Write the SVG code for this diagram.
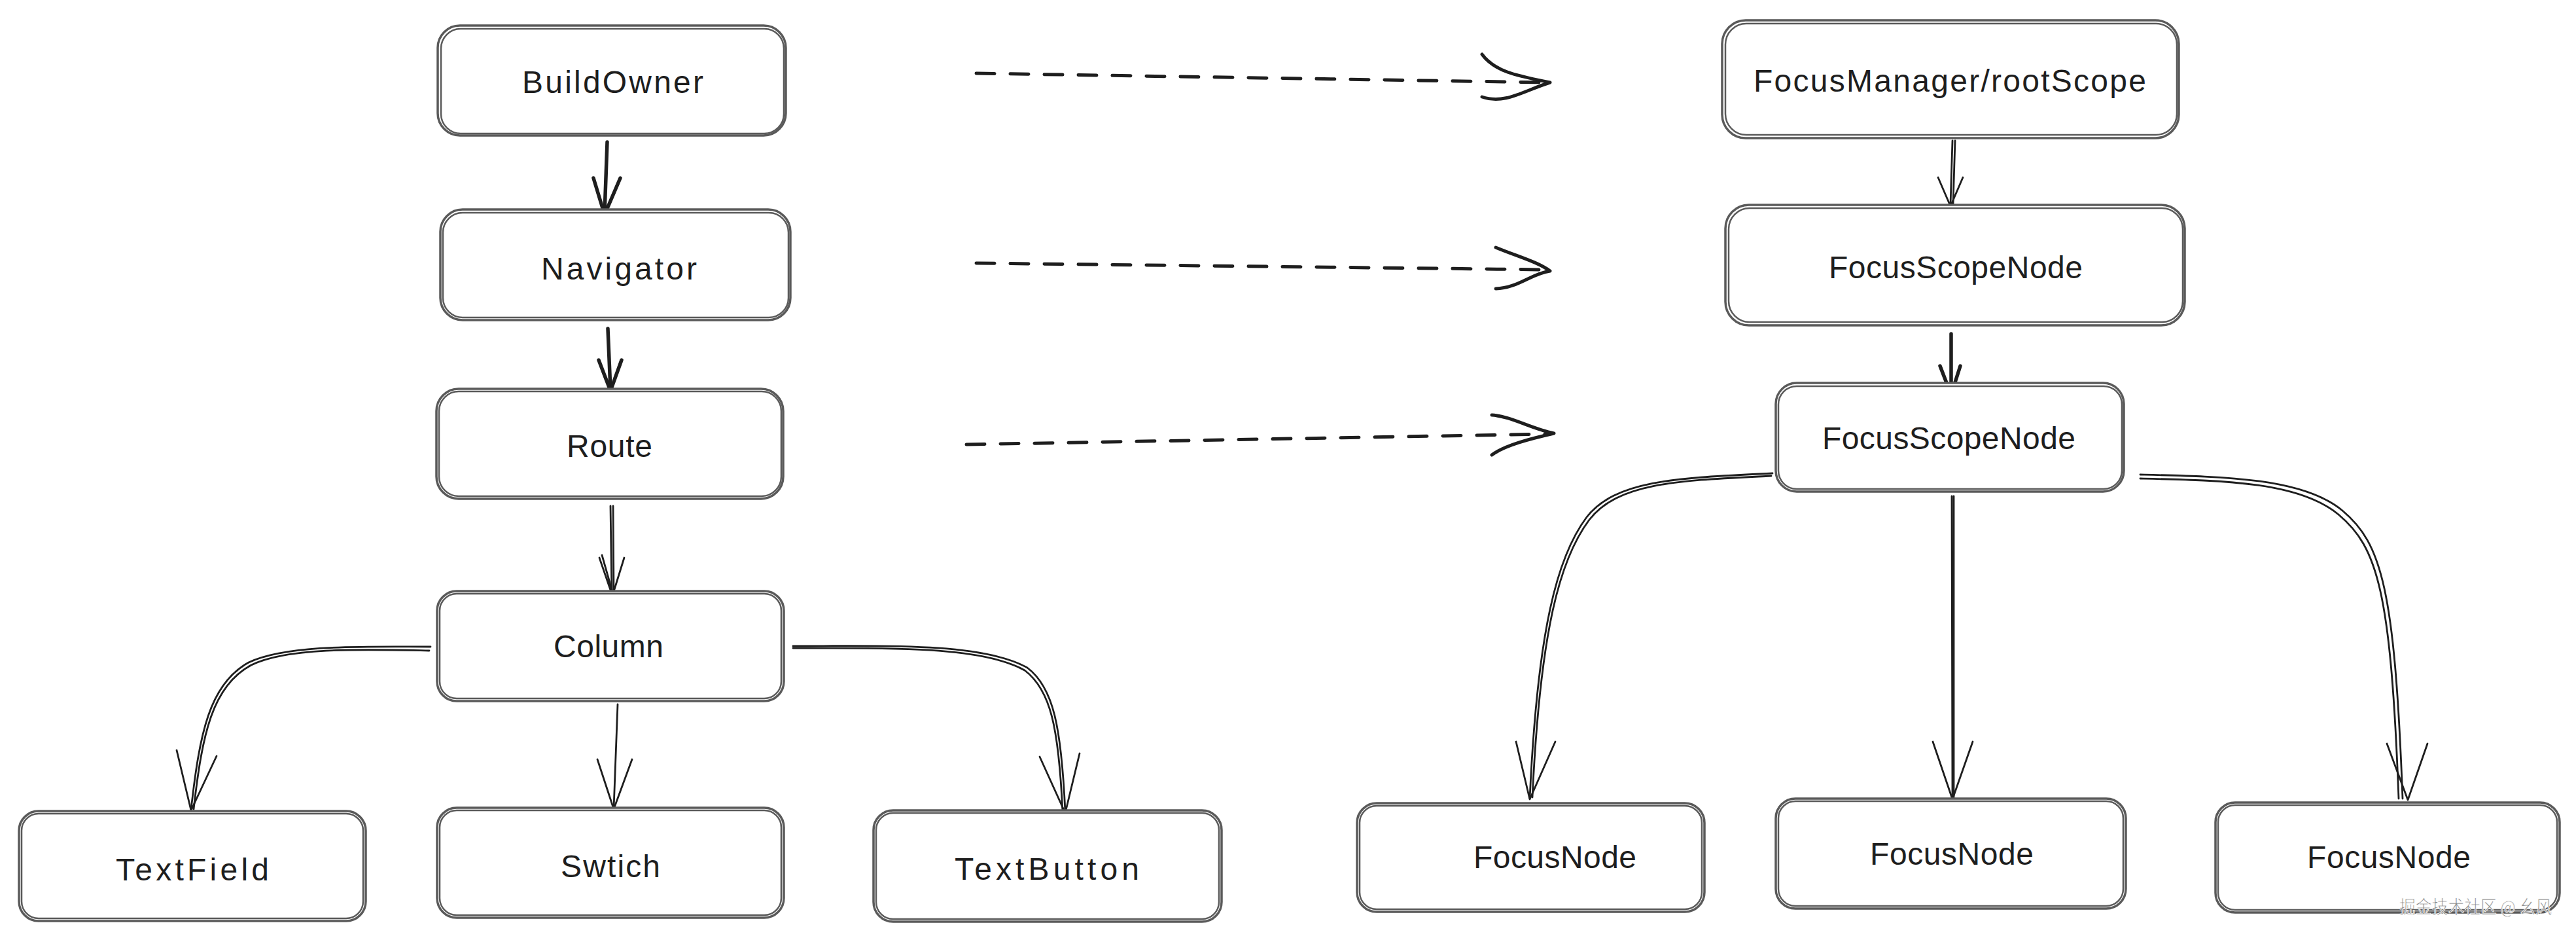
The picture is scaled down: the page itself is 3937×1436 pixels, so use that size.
<svg xmlns="http://www.w3.org/2000/svg" width="3937" height="1436" viewBox="0 0 3937 1436">
<style>
.box{fill:#fff;stroke:#5a5a5a;stroke-width:3.5}
.box2{fill:none;stroke:#5a5a5a;stroke-width:2.5}
.lbl{font-family:"Liberation Sans",Arial,sans-serif;font-size:48px;fill:#1e1e1e}
.thick{fill:none;stroke:#1e1e1e;stroke-width:5.5;stroke-linecap:round;stroke-linejoin:round}
.thin{fill:none;stroke:#1e1e1e;stroke-width:2.8;stroke-linecap:round;stroke-linejoin:round}
.dash{fill:none;stroke:#1e1e1e;stroke-width:5;stroke-dasharray:28 24;stroke-linecap:round}
.head{fill:none;stroke:#1e1e1e;stroke-width:5;stroke-linecap:round;stroke-linejoin:round}
.wm{font-family:"Noto Sans CJK SC","Liberation Sans",sans-serif;font-size:28px;fill:#8a8a8a;stroke:#fff;stroke-width:0.8}
</style>
<rect width="3937" height="1436" fill="#fff"/>
<g id="connectors">
  <!-- BuildOwner -> Navigator -->
  <path class="thick" d="M928,217 L924,326"/>
  <path class="thick" d="M907,272 L924,328 L948,272"/>
  <!-- Navigator -> Route -->
  <path class="thick" d="M929,502 L933,595"/>
  <path class="thick" d="M915,550 L933,597 L950,550"/>
  <!-- Route -> Column -->
  <path class="thin" d="M933,773 L935,908 M937,773 L938,906"/>
  <path class="thin" d="M916,852 L936,910 L954,852 M920,848 L937,908"/>
  <!-- Column -> TextField -->
  <path class="thin" d="M658,988 C560,988 440,984 380,1012 C320,1045 305,1120 292,1237"/>
  <path class="thin" d="M656,994 C560,992 440,988 384,1016 C324,1048 309,1122 296,1236"/>
  <path class="thin" d="M270,1146 L292,1238 L331,1155"/>
  <!-- Column -> Swtich -->
  <path class="thin" d="M944,1076 L938,1235"/>
  <path class="thin" d="M913,1160 L938,1236 L966,1160"/>
  <!-- Column -> TextButton -->
  <path class="thin" d="M1212,987 C1330,987 1500,980 1570,1020 C1610,1050 1622,1110 1628,1240"/>
  <path class="thin" d="M1212,990 C1330,991 1496,984 1566,1024 C1606,1054 1618,1112 1624,1240"/>
  <path class="thin" d="M1589,1156 L1628,1242 L1650,1151"/>
  <!-- dashed mappings -->
  <path class="dash" d="M1492,112 L2362,126"/>
  <path class="head" d="M2265,83 C2285,110 2320,116 2369,126 C2330,138 2300,160 2265,148"/>
  <path class="dash" d="M1492,402 L2362,412"/>
  <path class="head" d="M2286,378 C2320,392 2350,400 2369,414 C2340,418 2320,440 2286,441"/>
  <path class="dash" d="M1477,679 L2368,663"/>
  <path class="head" d="M2280,634 C2310,636 2340,655 2375,662 C2340,670 2300,680 2280,695"/>
  <!-- FocusManager -> FSN1 -->
  <path class="thin" d="M2984,215 L2981,313 M2988,215 L2985,312"/>
  <path class="thin" d="M2962,271 L2981,315 L3000,271"/>
  <!-- FSN1 -> FSN2 -->
  <path class="thick" d="M2982,510 L2982,601"/>
  <path class="thick" d="M2965,559 L2982,603 L2996,559"/>
  <!-- FSN2 -> FocusNodes -->
  <path class="thin" d="M2709,723 C2570,730 2470,732 2425,790 C2380,850 2350,960 2338,1220"/>
  <path class="thin" d="M2707,727 C2570,734 2474,736 2429,794 C2384,854 2354,962 2342,1218"/>
  <path class="thin" d="M2317,1133 L2338,1221 L2377,1133"/>
  <path class="thin" d="M2983,758 L2984,1220 M2986,758 L2986,1218"/>
  <path class="thin" d="M2954,1133 L2984,1221 L3015,1133"/>
  <path class="thin" d="M3271,725 C3400,728 3520,730 3580,780 C3640,830 3660,900 3672,1220"/>
  <path class="thin" d="M3271,731 C3400,734 3514,736 3574,786 C3634,836 3654,904 3666,1220"/>
  <path class="thin" d="M3648,1136 L3680,1222 L3710,1136"/>
</g>
<g id="n-buildowner">
  <rect class="box" x="669" y="39" width="532" height="168" rx="34"/>
  <rect class="box2" x="674" y="44" width="524" height="160" rx="30"/>
  <text class="lbl" x="798" y="142" textLength="277" lengthAdjust="spacing">BuildOwner</text>
</g>
<g id="n-navigator">
  <rect class="box" x="673" y="320" width="535" height="169" rx="34"/>
  <rect class="box2" x="677" y="325" width="528" height="160" rx="30"/>
  <text class="lbl" x="827" y="427" textLength="238" lengthAdjust="spacing">Navigator</text>
</g>
<g id="n-route">
  <rect class="box" x="667" y="594" width="530" height="168" rx="34"/>
  <rect class="box2" x="671" y="598" width="523" height="160" rx="30"/>
  <text class="lbl" x="866" y="698" textLength="131" lengthAdjust="spacing">Route</text>
</g>
<g id="n-column">
  <rect class="box" x="668" y="903" width="530" height="168" rx="30"/>
  <rect class="box2" x="672" y="907" width="522" height="160" rx="26"/>
  <text class="lbl" x="846" y="1004" textLength="168" lengthAdjust="spacing">Column</text>
</g>
<g id="n-textfield">
  <rect class="box" x="29" y="1239" width="530" height="168" rx="30"/>
  <rect class="box2" x="33" y="1243" width="522" height="160" rx="26"/>
  <text class="lbl" x="177" y="1345" textLength="234" lengthAdjust="spacing">TextField</text>
</g>
<g id="n-swtich">
  <rect class="box" x="668" y="1234" width="530" height="168" rx="30"/>
  <rect class="box2" x="672" y="1238" width="522" height="160" rx="26"/>
  <text class="lbl" x="857" y="1340" textLength="152" lengthAdjust="spacing">Swtich</text>
</g>
<g id="n-textbutton">
  <rect class="box" x="1335" y="1238" width="532" height="170" rx="30"/>
  <rect class="box2" x="1339" y="1242" width="524" height="162" rx="26"/>
  <text class="lbl" x="1459" y="1344" textLength="282" lengthAdjust="spacing">TextButton</text>
</g>
<g id="n-focusmanager">
  <rect class="box" x="2632" y="31" width="698" height="180" rx="36"/>
  <rect class="box2" x="2637" y="36" width="690" height="170" rx="32"/>
  <text class="lbl" x="2680" y="140" textLength="600" lengthAdjust="spacing">FocusManager/rootScope</text>
</g>
<g id="n-focusscope1">
  <rect class="box" x="2637" y="313" width="702" height="184" rx="36"/>
  <rect class="box2" x="2642" y="318" width="694" height="174" rx="32"/>
  <text class="lbl" x="2795" y="425" textLength="388" lengthAdjust="spacing">FocusScopeNode</text>
</g>
<g id="n-focusscope2">
  <rect class="box" x="2714" y="585" width="532" height="166" rx="32"/>
  <rect class="box2" x="2718" y="590" width="525" height="157" rx="28"/>
  <text class="lbl" x="2785" y="686" textLength="387" lengthAdjust="spacing">FocusScopeNode</text>
</g>
<g id="n-focusnode1">
  <rect class="box" x="2074" y="1227" width="531" height="166" rx="30"/>
  <rect class="box2" x="2078" y="1231" width="523" height="158" rx="26"/>
  <text class="lbl" x="2252" y="1326" textLength="249" lengthAdjust="spacing">FocusNode</text>
</g>
<g id="n-focusnode2">
  <rect class="box" x="2714" y="1220" width="535" height="168" rx="30"/>
  <rect class="box2" x="2718" y="1224" width="527" height="160" rx="26"/>
  <text class="lbl" x="2858" y="1321" textLength="250" lengthAdjust="spacing">FocusNode</text>
</g>
<g id="n-focusnode3">
  <rect class="box" x="3386" y="1226" width="526" height="168" rx="30"/>
  <rect class="box2" x="3390" y="1230" width="518" height="160" rx="26"/>
  <text class="lbl" x="3526" y="1326" textLength="250" lengthAdjust="spacing">FocusNode</text>
</g>
<text class="wm" x="3667" y="1396" textLength="233" lengthAdjust="spacingAndGlyphs">掘金技术社区 @ 幺风</text>
</svg>
